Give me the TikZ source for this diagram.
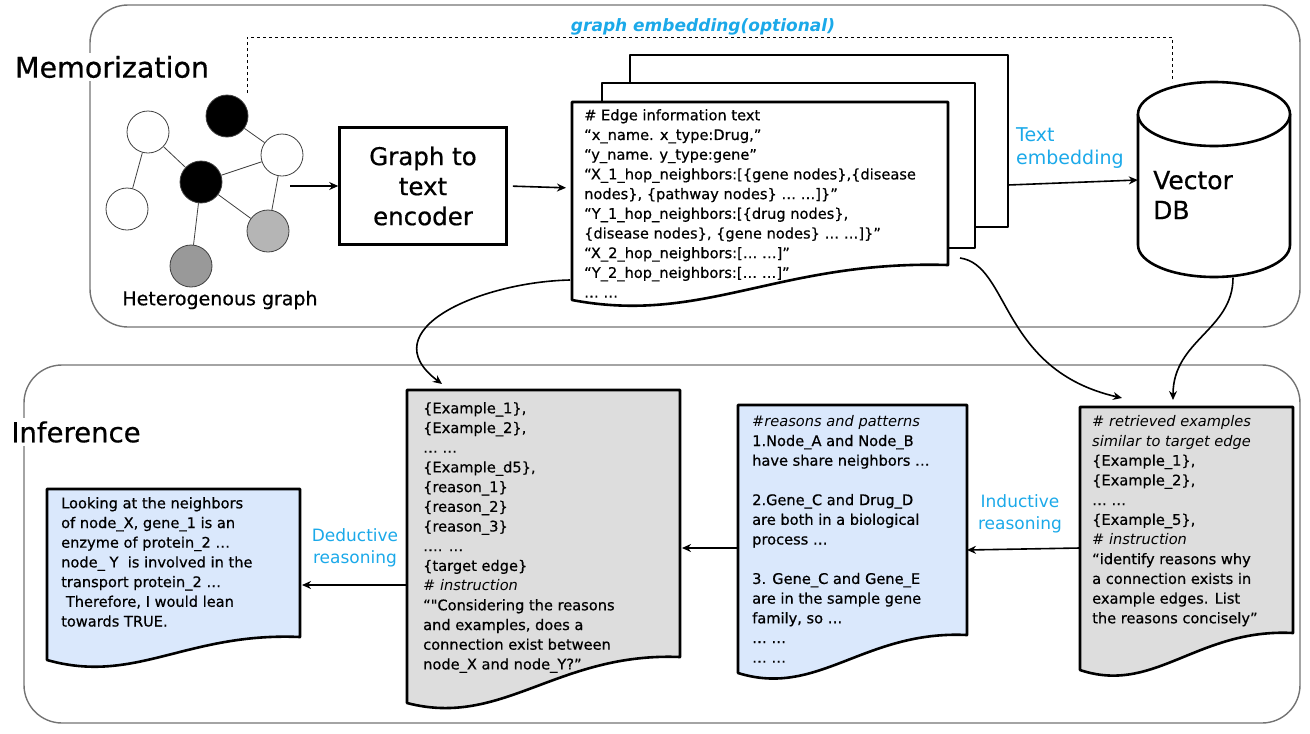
\documentclass[tikz,border=0pt]{standalone}
\usepackage{fontspec}
\setmainfont{DejaVu Sans}
\newfontfamily\semib{DejaVu Sans}[FakeBold=0.6]
\usetikzlibrary{arrows.meta}
\definecolor{lblue}{HTML}{DAE8FC}
\definecolor{lgray}{HTML}{DDDDDD}
\definecolor{skyb}{HTML}{1BA9E9}
\definecolor{gmid}{HTML}{999999}
\definecolor{glight}{HTML}{B5B5B5}
\newcommand{\docpath}[5]{(#1,#2) -- (#3,#2) -- (#3,#5) .. controls ({#1+0.55*(#3-#1)},{#5-5}) and ({#1+0.35*(#3-#1)},{#4+25}) .. (#1,#4) -- cycle}
\begin{document}
\begin{tikzpicture}[x=1pt,y=-1pt,
  frame/.style={draw=black!55, line width=1.4pt, rounded corners=38pt},
  doc/.style={draw=black, line width=2.6pt, line join=round},
  conn/.style={draw=black, line width=1.6pt, -{Stealth[length=9pt,width=8pt]}},
  txt/.style={anchor=north west, align=left, inner sep=0pt, font=\semib\fontsize{14.6}{19.7}\selectfont},
  cmt/.style={},
  lbl/.style={text=skyb, align=left, inner sep=0pt, font=\fontsize{17}{22.5}\selectfont},
  title/.style={fill=white, inner sep=3pt, font=\semib\fontsize{28.5}{32}\selectfont},
  gn/.style={circle, draw=black!75, line width=0.8pt, minimum size=42pt, inner sep=0pt},
  ge/.style={draw=black!75, line width=0.8pt}
]
\useasboundingbox (0,0) rectangle (1310,734);

% outer frames
\draw[frame] (90,5) rectangle (1300,327);
\draw[frame] (24,365) rectangle (1300,723);
\node[title] (tmem) at (112,67) {Memorization};
\node[title, font=\semib\fontsize{27.5}{32}\selectfont] (tinf) at (76,432) {Inference};

% graph
\node[gn, fill=white] (ga) at (148,132) {};
\node[gn, fill=black] (gb) at (227,116) {};
\node[gn, fill=white] (gc) at (282,155) {};
\node[gn, fill=black] (gd) at (201,182) {};
\node[gn, fill=white] (ge) at (127,209) {};
\node[gn, fill=glight] (gf) at (268,231) {};
\node[gn, fill=gmid] (gg) at (191,266) {};
\draw[ge] (ga) -- (gd);
\draw[ge] (ga) -- (ge);
\draw[ge] (gb) -- (gc);
\draw[ge] (gd) -- (gc);
\draw[ge] (gd) -- (gf);
\draw[ge] (gd) -- (gg);
\draw[ge] (gc) -- (gf);
\node[font=\semib\fontsize{19}{22}\selectfont] (hg) at (220,300) {Heterogenous graph};

% dashed graph embedding line
\coordinate (dstart) at (247,93);
\coordinate (dend) at (1172,82);
\draw[black, line width=0.8pt, dashed] (dstart) |- (1172,37) -- (dend);
\node[lbl, font=\fontsize{17}{22}\selectfont\bfseries\itshape] (gemb) at (703,27) {graph embedding(optional)};

% encoder
\node[draw, line width=2.6pt, minimum width=167pt, minimum height=117pt, align=center,
  font=\semib\fontsize{24.5}{30}\selectfont] (enc) at (423,186) {Graph to\\text\\encoder};
\coordinate (gout) at (290,186);
\draw[conn] (gout) -- (enc.west);

% stacked docs
\path[doc, fill=white] (630,55) rectangle (1008,227);
\path[doc, fill=white] (602,83) rectangle (975,248);
\path[doc, fill=white] \docpath{572}{102}{948}{300}{265};
\coordinate (docL) at (572,188);
\coordinate (docBL) at (570,280);
\coordinate (docBR) at (960,258);
\coordinate (stackR) at (1008,185);
\draw[conn, shorten <=5pt, shorten >=6pt] (enc.east) -- (docL);
\node[txt] (edgetxt) at (584,109) {\# Edge information text\\
“x\_name. x\_type:Drug,”\\
“y\_name. y\_type:gene”\\
“X\_1\_hop\_neighbors:[\{gene nodes\},\{disease\\
nodes\}, \{pathway nodes\} … …]\}”\\
“Y\_1\_hop\_neighbors:[\{drug nodes\},\\
\{disease nodes\}, \{gene nodes\} … …]\}”\\
“X\_2\_hop\_neighbors:[… …]”\\
“Y\_2\_hop\_neighbors:[… …]”\\
… …};

% vector DB
\path[doc, fill=white] (1138,114) -- (1138,245) .. controls (1138,262.7) and (1172,277) .. (1214,277) .. controls (1256,277) and (1290,262.7) .. (1290,245) -- (1290,114);
\draw[doc, fill=white] (1214,114) ellipse [x radius=76, y radius=32];
\node[minimum width=152pt, minimum height=195pt, inner sep=0pt] (db) at (1214,180) {};
\node[anchor=west, align=left, inner sep=0pt, font=\semib\fontsize{25}{30}\selectfont] (dbt) at (1153,195) {Vector\\DB};
\draw[conn] (stackR) -- (db.west);
\node[lbl, anchor=west, font=\fontsize{19}{23}\selectfont] (temb) at (1016,148) {Text\\embedding};

% bottom docs
\path[doc, fill=lgray] \docpath{1080}{407}{1293}{670}{633};
\path[doc, fill=lblue] \docpath{738}{405}{967}{673}{635};
\path[doc, fill=lgray] \docpath{407}{390}{680}{703}{657};
\path[doc, fill=lblue] \docpath{47}{489}{300}{660}{637};

\node[txt] (rtxt) at (1092,415) {{\normalfont\itshape \# retrieved examples}\\
{\normalfont\itshape similar to target edge}\\
\{Example\_1\},\\
\{Example\_2\},\\
… …\\
\{Example\_5\},\\
{\normalfont\itshape \# instruction}\\
“identify reasons why\\
a connection exists in\\
example edges. List\\
the reasons concisely”};

\node[txt] (reas) at (752,415) {{\normalfont\itshape \#reasons and patterns}\\
1.Node\_A and Node\_B\\
have share neighbors …\\[19.7pt]
2.Gene\_C and Drug\_D\\
are both in a biological\\
process …\\[19.7pt]
3. Gene\_C and Gene\_E\\
are in the sample gene\\
family, so …\\
… …\\
… …};

\node[txt] (ptxt) at (423,402) {\{Example\_1\},\\
\{Example\_2\},\\
… …\\
\{Example\_d5\},\\
\{reason\_1\}\\
\{reason\_2\}\\
\{reason\_3\}\\
…. …\\
\{target edge\}\\
{\normalfont\itshape \# instruction}\\
“"Considering the reasons\\
and examples, does a\\
connection exist between\\
node\_X and node\_Y?”};

\node[txt] (atxt) at (61,497) {Looking at the neighbors\\
of node\_X, gene\_1 is an\\
enzyme of protein\_2 …\\
node\_ Y\ \ is involved in the\\
transport protein\_2 …\\
\ Therefore, I would lean\\
towards TRUE.};

% bottom connectors
\coordinate (rL) at (1080,548);
\coordinate (reR) at (967,550);
\coordinate (reL) at (738,548);
\coordinate (pR) at (682,548);
\coordinate (pL) at (407,585);
\coordinate (aR) at (302,585);
\coordinate (pTop) at (442,384);
\coordinate (rTop1) at (1122,398);
\coordinate (rTop2) at (1173,400);
\draw[conn] (rL) -- (reR);
\draw[conn] (reL) -- (pR);
\draw[conn] (pL) -- (aR);
\node[lbl, align=center] (ind) at (1020,514) {Inductive\\reasoning};
\node[lbl, align=center] (ded) at (355,548) {Deductive\\reasoning};

% curved connectors
\draw[conn] (docBL) .. controls (480,282) and (370,330) .. (pTop);
\draw[conn] (docBR) .. controls (1010,265) and (1000,370) .. (rTop1);
\draw[conn] ([xshift=19pt]db.south) .. controls (1233,330) and (1173,340) .. (rTop2);
\end{tikzpicture}
\end{document}
